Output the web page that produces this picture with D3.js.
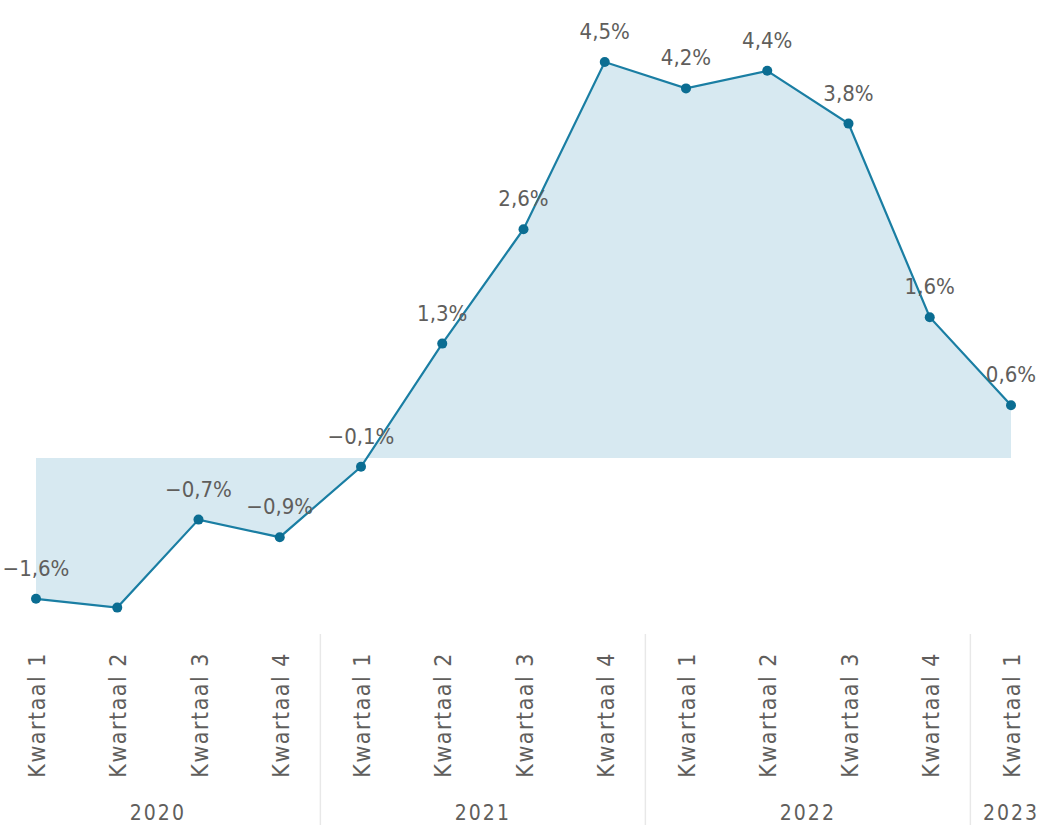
<!DOCTYPE html>
<html>
<head>
<meta charset="utf-8">
<script src="https://cdn.jsdelivr.net/npm/d3@7"></script>
<style>
    html, body { margin: 0; padding: 0; background: #fff; }
    svg { display: block; }
    .data-label { font-family: 'DejaVu Sans Condensed', sans-serif; fill: #605e5c; }
    .tick-label { font-family: 'DejaVu Sans Condensed', sans-serif; fill: #605e5c; }
    .year-label { font-family: 'DejaVu Sans Condensed', sans-serif; fill: #605e5c; }
</style>
</head>
<body>
<svg id="chart"></svg>
<script>
// values (percent)
const years = ['2020', '2020', '2020', '2020', '2021', '2021', '2021', '2021', '2022', '2022', '2022', '2022', '2023']
const quarters = ['Kwartaal 1', 'Kwartaal 2', 'Kwartaal 3', 'Kwartaal 4', 'Kwartaal 1', 'Kwartaal 2', 'Kwartaal 3', 'Kwartaal 4', 'Kwartaal 1', 'Kwartaal 2', 'Kwartaal 3', 'Kwartaal 4', 'Kwartaal 1']
const values = [-1.6, -1.7, -0.7, -0.9, -0.1, 1.3, 2.6, 4.5, 4.2, 4.4, 3.8, 1.6, 0.6]
// the second point has no label in the original
const showLabel = [true, false, true, true, true, true, true, true, true, true, true, true, true]

const width = 1041
const height = 825

const data = values.map((v, i) => ({ i: i, year: years[i], quarter: quarters[i], value: v, label: showLabel[i] }))

const svg = d3.select('#chart')
    .attr('width', width)
    .attr('height', height)

const step = 81.25
const xScale = d3.scaleLinear()
    .domain([0, values.length - 1])
    .range([36, 36 + step * (values.length - 1)])

const yScale = d3.scaleLinear()
    .domain([0, 4.5])
    .range([458, 62])

const fmt = v => d3.format('.1f')(v).replace('.', ',').replace('-', '\u2212') + '%'

// area between line and zero
const area = d3.area()
    .x(d => xScale(d.i))
    .y0(yScale(0))
    .y1(d => yScale(d.value))

svg.append('path')
    .datum(data)
    .attr('d', area)
    .attr('fill', '#d7e9f1')

const line = d3.line()
    .x(d => xScale(d.i))
    .y(d => yScale(d.value))

svg.append('path')
    .datum(data)
    .attr('d', line)
    .attr('fill', 'none')
    .attr('stroke', '#1a7ea3')
    .attr('stroke-width', 2.2)

svg.selectAll('.dot')
    .data(data)
    .join('circle')
    .attr('class', 'dot')
    .attr('cx', d => xScale(d.i))
    .attr('cy', d => yScale(d.value))
    .attr('r', 5)
    .attr('fill', '#0b6d92')

svg.selectAll('.data-label')
    .data(data.filter(d => d.label))
    .join('text')
    .attr('class', 'data-label')
    .attr('x', d => xScale(d.i))
    .attr('y', d => yScale(d.value) - 23)
    .attr('text-anchor', 'middle')
    .attr('font-size', 22)
    .text(d => fmt(d.value))

// quarter tick labels, rotated
svg.selectAll('.tick-label')
    .data(data)
    .join('text')
    .attr('class', 'tick-label')
    .attr('transform', d => `translate(${xScale(d.i) + 1},652) rotate(-90)`)
    .attr('text-anchor', 'end')
    .attr('dy', '0.35em')
    .attr('font-size', 23)
    .attr('letter-spacing', 1.5)
    .text(d => d.quarter)

// year groups
const groups = d3.groups(data, d => d.year).map(([year, rows]) => ({
    year: year,
    start: xScale(rows[0].i) - step / 2,
    end: xScale(rows[rows.length - 1].i) + step / 2
}))

svg.selectAll('.sep')
    .data(groups.slice(1))
    .join('line')
    .attr('class', 'sep')
    .attr('x1', d => d.start)
    .attr('x2', d => d.start)
    .attr('y1', 634)
    .attr('y2', height)
    .attr('stroke', '#e8e8e8')
    .attr('stroke-width', 1.5)

svg.selectAll('.year-label')
    .data(groups)
    .join('text')
    .attr('class', 'year-label')
    .attr('x', d => (d.start + d.end) / 2)
    .attr('y', 820)
    .attr('text-anchor', 'middle')
    .attr('font-size', 21)
    .attr('letter-spacing', 2)
    .text(d => d.year)
</script>
</body>
</html>
